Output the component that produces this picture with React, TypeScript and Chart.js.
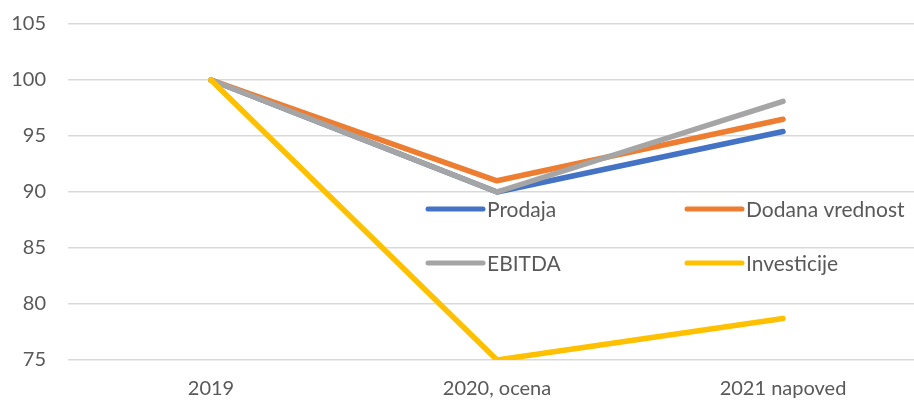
import React, { useEffect, useRef } from "react";
import { Chart, registerables } from "chart.js";

Chart.register(...registerables);

const categories = ["2019", "2020, ocena", "2021 napoved"];
const prodaja = [100, 90, 95.4];
const dodanaVrednost = [100, 91, 96.5];
const ebitda = [100, 90, 98.1];
const investicije = [100, 75, 78.7];
const yTicks = [75, 80, 85, 90, 95, 100, 105];

const FONT = "Lato, 'Noto Sans', sans-serif";
const TEXT = "#595959";

const gridLegend = {
  id: "gridLegend",
  afterDatasetsDraw(chart: any) {
    const ctx = chart.ctx;
    const area = chart.chartArea;
    const cols = [area.left + 360, area.left + 619];
    const rows = [area.top + 185, area.top + 239];
    ctx.save();
    ctx.font = `21px ${FONT}`;
    ctx.textBaseline = "middle";
    ctx.textAlign = "left";
    chart.data.datasets.forEach((ds: any, i: number) => {
      const x = cols[i % 2];
      const y = rows[Math.floor(i / 2)];
      ctx.strokeStyle = ds.borderColor;
      ctx.lineWidth = 5;
      ctx.lineCap = "round";
      ctx.beginPath();
      ctx.moveTo(x, y);
      ctx.lineTo(x + 55, y);
      ctx.stroke();
      ctx.fillStyle = TEXT;
      ctx.fillText(ds.label, x + 59, y + 1);
    });
    ctx.restore();
  },
};

export default function App() {
  const ref = useRef<HTMLCanvasElement | null>(null);
  useEffect(() => {
    if (!ref.current) return;
    const mk = (label: string, data: number[], color: string, order: number) => ({
      label,
      data,
      borderColor: color,
      backgroundColor: color,
      borderWidth: 5.5,
      borderCapStyle: "round" as const,
      borderJoinStyle: "round" as const,
      pointRadius: 0,
      tension: 0,
      order,
    });
    const chart = new Chart(ref.current, {
      type: "line",
      data: {
        labels: categories,
        datasets: [
          mk("Prodaja", prodaja, "#4472C4", 3),
          mk("Dodana vrednost", dodanaVrednost, "#ED7D31", 2),
          mk("EBITDA", ebitda, "#A5A5A5", 1),
          mk("Investicije", investicije, "#FFC000", 0),
        ],
      },
      options: {
        responsive: false,
        animation: false,
        layout: { padding: { top: 24, right: 0, left: 0, bottom: 0 } },
        plugins: { legend: { display: false }, tooltip: { enabled: false } },
        scales: {
          x: {
            offset: true,
            grid: { display: false, drawTicks: false },
            border: { display: false },
            ticks: { color: TEXT, font: { family: FONT, size: 20 }, padding: 17 },
            afterFit: (s: any) => {
              s.height = 41;
              s.paddingLeft = 0;
              s.paddingRight = 0;
            },
          },
          y: {
            min: 75,
            max: 105,
            afterBuildTicks: (s: any) => {
              s.ticks = yTicks.map((v) => ({ value: v }));
            },
            grid: { color: "#D9D9D9", lineWidth: 1.5, drawTicks: false },
            border: { display: false },
            ticks: { color: TEXT, font: { family: FONT, size: 20 }, padding: 22 },
            afterFit: (s: any) => {
              s.width = 68;
              s.paddingTop = 0;
              s.paddingBottom = 0;
            },
          },
        },
      },
      plugins: [gridLegend],
    });
    return () => chart.destroy();
  }, []);
  return (
    <div
      style={{
        position: "fixed",
        left: 0,
        top: 0,
        width: 914,
        height: 401,
        overflow: "hidden",
        background: "#fff",
      }}
    >
      <canvas ref={ref} width={926} height={401} style={{ display: "block" }} />
    </div>
  );
}
